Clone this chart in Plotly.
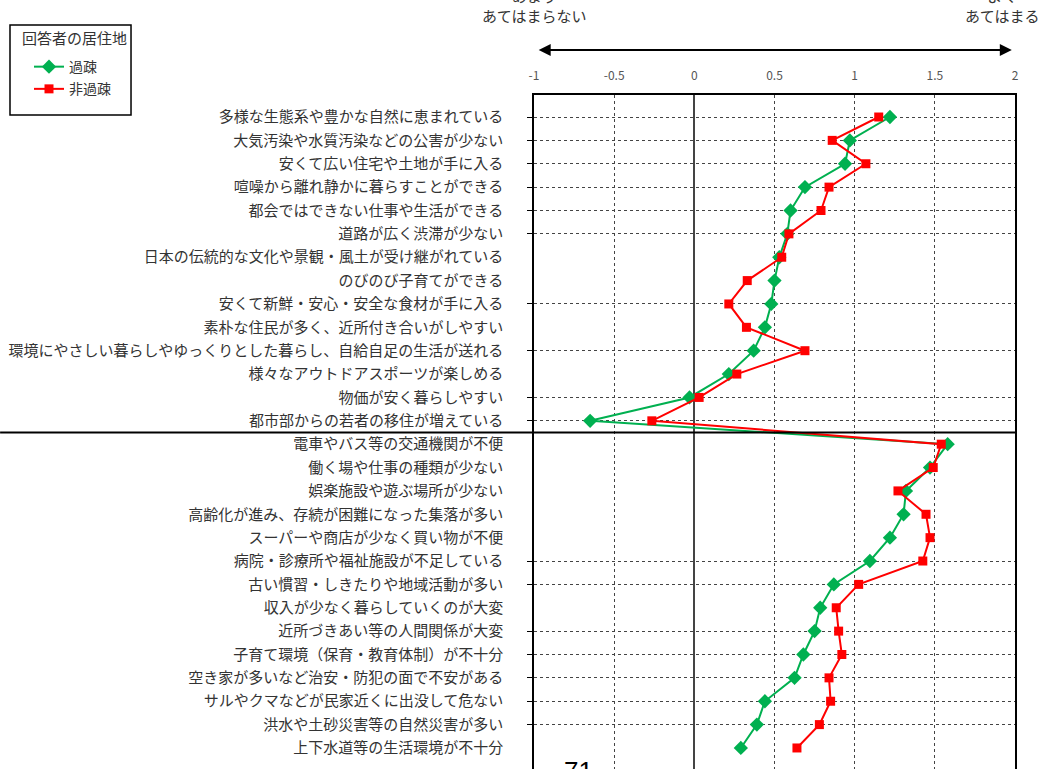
import plotly.graph_objects as go

categories = [
    "多様な生態系や豊かな自然に恵まれている",
    "大気汚染や水質汚染などの公害が少ない",
    "安くて広い住宅や土地が手に入る",
    "喧噪から離れ静かに暮らすことができる",
    "都会ではできない仕事や生活ができる",
    "道路が広く渋滞が少ない",
    "日本の伝統的な文化や景観・風土が受け継がれている",
    "のびのび子育てができる",
    "安くて新鮮・安心・安全な食材が手に入る",
    "素朴な住民が多く、近所付き合いがしやすい",
    "環境にやさしい暮らしやゆっくりとした暮らし、自給自足の生活が送れる",
    "様々なアウトドアスポーツが楽しめる",
    "物価が安く暮らしやすい",
    "都市部からの若者の移住が増えている",
    "電車やバス等の交通機関が不便",
    "働く場や仕事の種類が少ない",
    "娯楽施設や遊ぶ場所が少ない",
    "高齢化が進み、存続が困難になった集落が多い",
    "スーパーや商店が少なく買い物が不便",
    "病院・診療所や福祉施設が不足している",
    "古い慣習・しきたりや地域活動が多い",
    "収入が少なく暮らしていくのが大変",
    "近所づきあい等の人間関係が大変",
    "子育て環境（保育・教育体制）が不十分",
    "空き家が多いなど治安・防犯の面で不安がある",
    "サルやクマなどが民家近くに出没して危ない",
    "洪水や土砂災害等の自然災害が多い",
    "上下水道等の生活環境が不十分",
]
n_positive = 14  # first group: good points; rest: problems

kaso = [1.22, 0.97, 0.94, 0.69, 0.60, 0.58, 0.53, 0.50, 0.48, 0.44, 0.37, 0.215, -0.03, -0.65,
        1.58, 1.47, 1.32, 1.305, 1.22, 1.095, 0.87, 0.785, 0.75, 0.68, 0.625, 0.44, 0.39, 0.29]
hikaso = [1.15, 0.86, 1.07, 0.84, 0.79, 0.59, 0.545, 0.33, 0.215, 0.325, 0.69, 0.265, 0.03, -0.265,
          1.54, 1.49, 1.27, 1.445, 1.47, 1.425, 1.025, 0.885, 0.90, 0.92, 0.84, 0.85, 0.78, 0.64]

x_tickvals = [-1, -0.5, 0, 0.5, 1, 1.5, 2]
x_ticktext = ["-1", "-0.5", "0", "0.5", "1", "1.5", "2"]

legend_title = "回答者の居住地"
series_names = ["過疎", "非過疎"]

# rows that show dotted gridlines / tick marks in the original
grid_rows = [0, 1, 2, 3, 4, 5, 8, 10, 12, 13, 19, 20, 22, 23, 24, 25, 26]

FONT = "Noto Sans CJK JP"
ypos = list(range(len(categories)))

fig = go.Figure()
fig.add_trace(go.Scatter(
    x=kaso, y=ypos, name=series_names[0], mode="lines+markers",
    legendgroup="a",
    line=dict(color="#00B050", width=2),
    marker=dict(symbol="diamond", size=11, color="#00B050"),
))
fig.add_trace(go.Scatter(
    x=hikaso, y=ypos, name=series_names[1], mode="lines+markers",
    legendgroup="b",
    line=dict(color="#FF0000", width=2),
    marker=dict(symbol="square", size=9, color="#FF0000"),
))
fig.add_trace(go.Scatter(x=[None], y=[None], yaxis="y2", showlegend=False, hoverinfo="skip"))

yrange = [27.9, -0.942]

fig.update_layout(
    width=1040, height=769,
    margin=dict(l=534, r=25, t=95, b=0),
    plot_bgcolor="white", paper_bgcolor="white",
    font=dict(family=FONT, color="#333"),
    xaxis=dict(
        range=[-1, 2], side="top", tickvals=x_tickvals, ticktext=x_ticktext,
        tickfont=dict(size=12, color="#555", family=FONT),
        ticks="", ticklabelstandoff=8,
        showline=True, linecolor="black", linewidth=1.5,
        showgrid=True, griddash="dot", gridcolor="#444", gridwidth=1,
        zeroline=True, zerolinecolor="#444", zerolinewidth=1.5,
    ),
    yaxis=dict(
        range=yrange, tickvals=ypos, ticktext=categories,
        tickfont=dict(size=15, color="#333", family=FONT),
        ticks="", ticklabelstandoff=26,
        showgrid=False, zeroline=False,
        showline=True, mirror=True, linecolor="black", linewidth=1.5,
    ),
    yaxis2=dict(
        overlaying="y", side="left", range=yrange, tickvals=grid_rows,
        showticklabels=False, ticks="outside", ticklen=6, tickcolor="black",
        showgrid=True, griddash="dot", gridcolor="#444", gridwidth=1,
        zeroline=False, showline=False,
    ),
    legend=dict(
        x=-1.0499, y=1.0652, xanchor="left", yanchor="top",
        borderwidth=0, bgcolor="rgba(0,0,0,0)",
        font=dict(size=14, family=FONT, color="#333"),
        traceorder="grouped", tracegroupgap=1,
    ),
    showlegend=True,
)

# legend frame and title
fig.add_shape(type="rect", xref="paper", yref="paper",
              x0=-1.0894, x1=-0.8378, y0=0.9703, y1=1.1039,
              line=dict(color="black", width=1.5), fillcolor="rgba(0,0,0,0)")
fig.add_annotation(text=legend_title, xref="paper", yref="paper", x=-1.0686, y=1.0846,
                   xanchor="left", yanchor="middle", showarrow=False,
                   font=dict(size=15, color="#333", family=FONT))

# group divider
fig.add_shape(type="line", xref="paper", yref="y",
              x0=-1.11, x1=1, y0=n_positive - 0.5, y1=n_positive - 0.5,
              line=dict(color="black", width=2))

# scale direction labels and arrow
fig.add_annotation(text="あまり<br>あてはまらない", xref="x", yref="paper", x=-1, y=1.0994,
                   xanchor="center", yanchor="bottom", showarrow=False,
                   font=dict(size=15, color="#333", family=FONT))
fig.add_annotation(text="よく<br>あてはまる", xref="x", yref="paper", x=1.92, y=1.0994,
                   xanchor="center", yanchor="bottom", showarrow=False,
                   font=dict(size=15, color="#333", family=FONT))
fig.add_annotation(text="", xref="x", yref="paper", x=1.98, y=1.0668,
                   axref="x", ayref="pixel", ax=-0.98, ay=0,
                   showarrow=True, arrowhead=2, arrowside="end+start",
                   arrowsize=1.2, arrowwidth=2, arrowcolor="black")

# page number (cut off at bottom)
fig.add_annotation(text="71", xref="paper", yref="paper", x=0.0915, y=0.0223,
                   xanchor="center", yanchor="top", showarrow=False,
                   font=dict(size=26, color="black", family="Liberation Sans"))

fig.write_html("out.html", config={"displayModeBar": False},
               post_script="document.body.style.margin='0';")
